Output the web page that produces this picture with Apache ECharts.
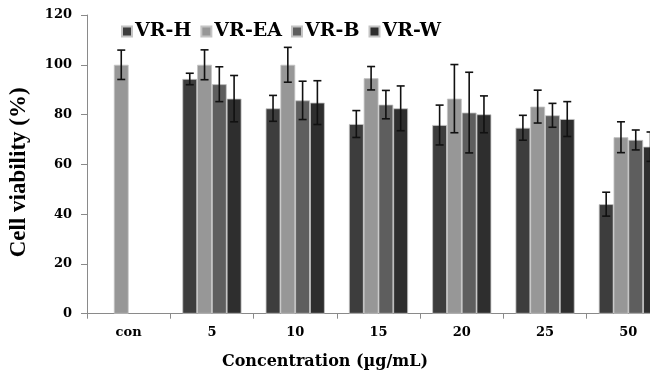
<!DOCTYPE html>
<html>
<head>
<meta charset="utf-8">
<script src="https://cdn.jsdelivr.net/npm/echarts@6/dist/echarts.min.js"></script>
<style>html,body{margin:0;padding:0;background:#fff;}#c{width:650px;height:378px;}</style>
</head>
<body>
<div id="c"></div>
<script>
var categories = ['con', '5', '10', '15', '20', '25', '50'];
var seriesNames = ['VR-H', 'VR-EA', 'VR-B', 'VR-W'];
var vrH = [null, 94.3, 82.5, 76.2, 75.8, 74.7, 44.0];
var vrHErr = [null, 2.3, 5.2, 5.4, 8.0, 5.0, 4.8];
var vrEA = [100, 100, 100, 94.6, 86.4, 83.2, 70.9];
var vrEAErr = [5.9, 6.0, 7.0, 4.7, 13.7, 6.6, 6.2];
var vrB = [null, 92.2, 85.7, 84.0, 80.8, 79.7, 69.8];
var vrBErr = [null, 7.0, 7.7, 5.7, 16.2, 4.8, 4.0];
var vrW = [null, 86.4, 84.8, 82.5, 80.1, 78.2, 67.1];
var vrWErr = [null, 9.3, 8.8, 9.0, 7.4, 7.0, 5.9];
var yTicks = [0, 20, 40, 60, 80, 100, 120];

var values = [vrH, vrEA, vrB, vrW];
var errors = [vrHErr, vrEAErr, vrBErr, vrWErr];
var colors = ['#3d3d3d', '#979797', '#5e5e5e', '#2e2e2e'];
var catGap = 0.29;
var font = 'DejaVu Serif';

var chart = echarts.init(document.getElementById('c'), null, {renderer: 'canvas'});

var series = [];
values.forEach(function (vals, i) {
  series.push({
    name: seriesNames[i],
    type: 'bar',
    data: vals,
    barGap: '0%',
    barCategoryGap: (catGap * 100) + '%',
    itemStyle: {color: colors[i], borderColor: '#c4c4c4', borderWidth: 0.8},
    emphasis: {disabled: true}
  });
});
values.forEach(function (vals, i) {
  var errData = [];
  vals.forEach(function (v, k) {
    if (v != null) errData.push([k, v - errors[i][k], v + errors[i][k]]);
  });
  series.push({
    type: 'custom',
    z: 10,
    silent: true,
    data: errData,
    renderItem: function (params, api) {
      var k = api.value(0);
      var lo = api.coord([k, api.value(1)]);
      var hi = api.coord([k, api.value(2)]);
      var catW = api.size([1, 0])[0];
      var bw = catW * (1 - catGap) / 4;
      var x = lo[0] - 2 * bw + bw * (i + 0.5);
      var cap = 4;
      var st = {stroke: '#111', lineWidth: 1.6};
      return {
        type: 'group',
        children: [
          {type: 'line', shape: {x1: x, y1: lo[1], x2: x, y2: hi[1]}, style: st},
          {type: 'line', shape: {x1: x - cap, y1: lo[1], x2: x + cap, y2: lo[1]}, style: st},
          {type: 'line', shape: {x1: x - cap, y1: hi[1], x2: x + cap, y2: hi[1]}, style: st}
        ]
      };
    }
  });
});

chart.setOption({
  animation: false,
  backgroundColor: '#fff',
  title: {
    text: 'Concentration (µg/mL)',
    left: 'center',
    top: 349,
    textStyle: {fontFamily: font, fontWeight: 'bold', fontSize: 16, color: '#000'}
  },
  legend: {
    data: seriesNames,
    left: 116,
    top: 17,
    itemWidth: 10,
    itemHeight: 10,
    itemGap: 9,
    icon: 'rect',
    textStyle: {fontFamily: font, fontWeight: 'bold', fontSize: 19, color: '#000', padding: [0, 0, 0, -2]}
  },
  grid: {left: 87, top: 15, width: 583, height: 298.7, containLabel: false, outerBoundsMode: 'none'},
  xAxis: {
    type: 'category',
    data: categories,
    axisLine: {lineStyle: {color: '#8a8a8a', width: 1}},
    axisTick: {show: true, length: 5, lineStyle: {color: '#8a8a8a'}},
    axisLabel: {fontFamily: font, fontWeight: 'bold', fontSize: 13, color: '#000', margin: 12}
  },
  yAxis: {
    type: 'value',
    min: yTicks[0],
    max: yTicks[yTicks.length - 1],
    interval: yTicks[1] - yTicks[0],
    name: 'Cell viability (%)',
    nameLocation: 'middle',
    nameGap: 56,
    nameTextStyle: {fontFamily: 'Liberation Serif', fontWeight: 'bold', fontSize: 23, color: '#000', padding: [0, 16, 0, 0]},
    splitLine: {show: false},
    axisLine: {show: true, lineStyle: {color: '#8a8a8a', width: 1}},
    axisTick: {show: true, length: 6, lineStyle: {color: '#8a8a8a'}},
    axisLabel: {fontFamily: font, fontWeight: 'bold', fontSize: 13, color: '#000', margin: 15}
  },
  series: series
});
</script>
</body>
</html>
